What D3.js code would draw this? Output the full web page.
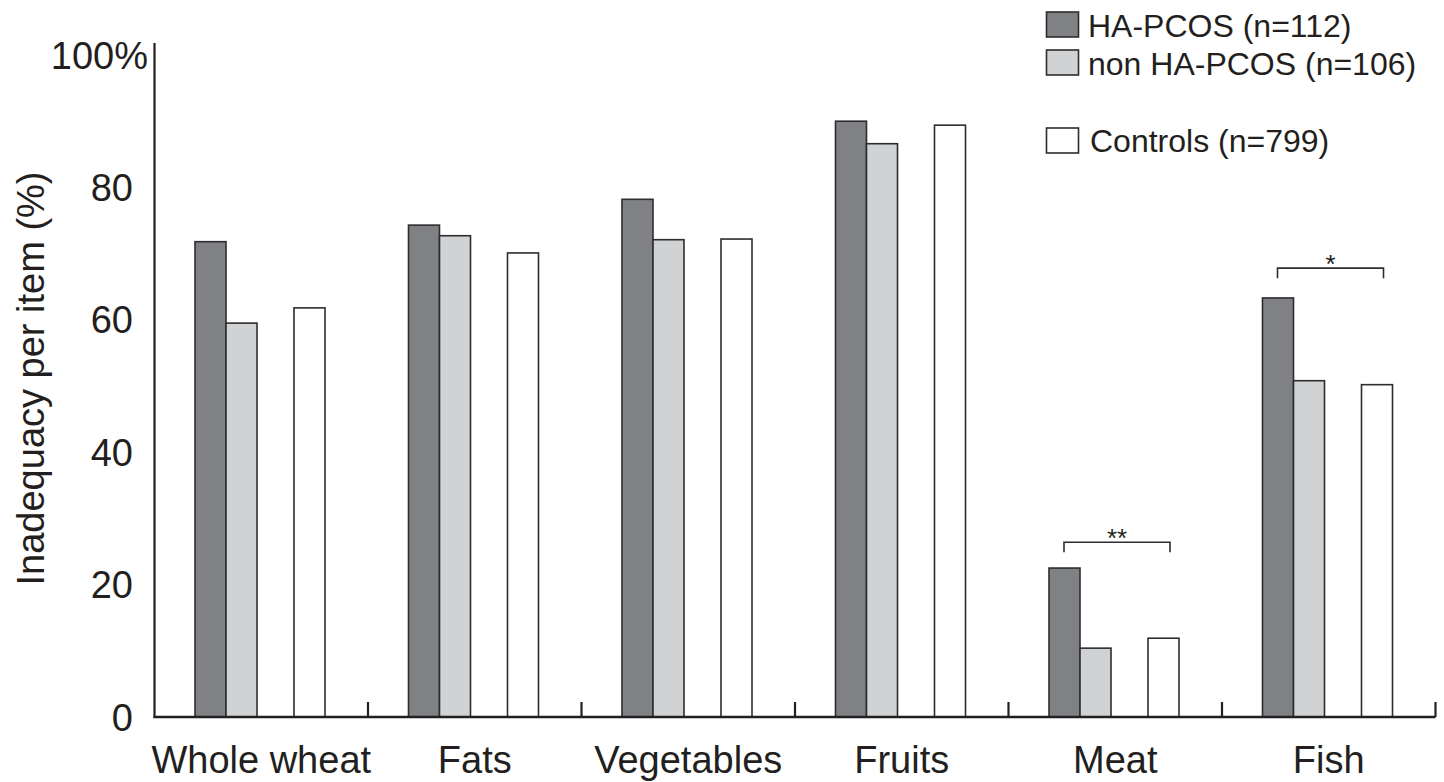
<!DOCTYPE html>
<html>
<head>
<meta charset="utf-8">
<script src="https://cdn.jsdelivr.net/npm/d3@7/dist/d3.min.js"></script>
<style>
  html, body { margin: 0; padding: 0; background: #fff; }
  svg { display: block; }
  text { font-family: "Liberation Sans", Arial, Helvetica, sans-serif; fill: #231f20; }
</style>
</head>
<body>
<svg id="chart" width="1444" height="782"></svg>
<script>
// ---- data ----
const categories = ["Whole wheat", "Fats", "Vegetables", "Fruits", "Meat", "Fish"];
const seriesNames = ["HA-PCOS (n=112)", "non HA-PCOS (n=106)", "Controls (n=799)"];
const haPcos    = [71.8, 74.3, 78.2, 90.0, 22.5, 63.3];
const nonHaPcos = [59.5, 72.7, 72.1, 86.6, 10.4, 50.8];
const controls  = [61.8, 70.1, 72.2, 89.4, 11.9, 50.2];
const yTicks = [0, 20, 40, 60, 80, 100];
const yTickLabels = ["0", "20", "40", "60", "80", "100%"];
const sigCategories = ["Meat", "Fish"];
const sigLabels = ["**", "*"];
const sigLevels = [26.4, 67.8];

// ---- layout ----
const svg = d3.select("#chart");
const axisLeft = 154.5, axisRight = 1435.5, baseY = 717, topY = 55, axisTop = 43;
const fills = ["#808184", "#d1d2d4", "#ffffff"];
const barW = 31;

const x0 = d3.scaleBand().domain(categories).range([axisLeft, axisRight]).paddingInner(0).paddingOuter(0);
const x1 = d3.scaleOrdinal().domain(seriesNames).range([40.5, 71.5, 139.5]);
const y = d3.scaleLinear().domain([0, 100]).range([baseY, topY]);

const seriesValues = [haPcos, nonHaPcos, controls];
const rows = [];
categories.forEach((c, i) => {
  seriesNames.forEach((s, j) => rows.push({ cat: c, series: s, idx: j, value: seriesValues[j][i] }));
});

// bars
svg.append("g").selectAll("rect").data(rows).join("rect")
  .attr("x", d => x0(d.cat) + x1(d.series))
  .attr("y", d => y(d.value))
  .attr("width", barW)
  .attr("height", d => baseY - y(d.value))
  .attr("fill", d => fills[d.idx])
  .attr("stroke", "#2d2d2d")
  .attr("stroke-width", 1.6);

// y axis line
svg.append("line")
  .attr("x1", axisLeft).attr("x2", axisLeft)
  .attr("y1", axisTop).attr("y2", baseY + 1)
  .attr("stroke", "#231f20").attr("stroke-width", 2.2);

// y tick labels
svg.append("g").selectAll("text").data(yTicks).join("text")
  .attr("x", (d, i) => i === yTicks.length - 1 ? 148 : 133)
  .attr("y", d => y(d))
  .attr("dy", "0.36em")
  .attr("text-anchor", "end")
  .attr("font-size", 38)
  .text((d, i) => yTickLabels[i]);

// x axis with upward ticks at band boundaries
const xAxis = d3.axisBottom(x0).tickSize(0).tickFormat("");
const gx = svg.append("g").attr("transform", `translate(0,${baseY})`).call(xAxis);
gx.select(".domain").remove();
gx.selectAll(".tick").remove();
svg.append("line")
  .attr("x1", axisLeft - 1).attr("x2", axisRight)
  .attr("y1", baseY).attr("y2", baseY)
  .attr("stroke", "#231f20").attr("stroke-width", 2.4);
svg.append("g").selectAll("line").data(categories).join("line")
  .attr("x1", d => x0(d) + x0.bandwidth())
  .attr("x2", d => x0(d) + x0.bandwidth())
  .attr("y1", baseY).attr("y2", baseY - 15)
  .attr("stroke", "#231f20").attr("stroke-width", 2.2);

// x category labels
svg.append("g").selectAll("text").data(categories).join("text")
  .attr("x", d => x0(d) + x0.bandwidth() / 2)
  .attr("y", 773)
  .attr("text-anchor", "middle")
  .attr("font-size", 38)
  .text(d => d);

// y axis title
svg.append("text")
  .attr("transform", "translate(44,378.5) rotate(-90)")
  .attr("text-anchor", "middle")
  .attr("font-size", 38)
  .text("Inadequacy per item (%)");

// significance brackets
sigCategories.forEach((c, k) => {
  const xl = x0(c) + x1(seriesNames[0]) + 15;
  const xr = x0(c) + x1(seriesNames[2]) + 22;
  const yb = y(sigLevels[k]);
  svg.append("path")
    .attr("d", `M${xl},${yb + 10}V${yb}H${xr}V${yb + 10}`)
    .attr("fill", "none").attr("stroke", "#2d2d2d").attr("stroke-width", 1.6);
  svg.append("text")
    .attr("x", (xl + xr) / 2)
    .attr("y", yb + 5)
    .attr("text-anchor", "middle")
    .attr("font-size", 26)
    .text(sigLabels[k]);
});

// legend
const legendItems = [
  { name: seriesNames[0], fill: fills[0], sy: 12, ty: 37, tx: 1088 },
  { name: seriesNames[1], fill: fills[1], sy: 50, ty: 75, tx: 1088 },
  { name: seriesNames[2], fill: fills[2], sy: 128, ty: 152, tx: 1090 }
];
const lg = svg.append("g");
lg.selectAll("rect").data(legendItems).join("rect")
  .attr("x", 1046.5).attr("y", d => d.sy)
  .attr("width", 32).attr("height", 25)
  .attr("fill", d => d.fill)
  .attr("stroke", "#2d2d2d").attr("stroke-width", 1.6);
lg.selectAll("text").data(legendItems).join("text")
  .attr("x", d => d.tx).attr("y", d => d.ty)
  .attr("font-size", 32)
  .text(d => d.name);
</script>
</body>
</html>
